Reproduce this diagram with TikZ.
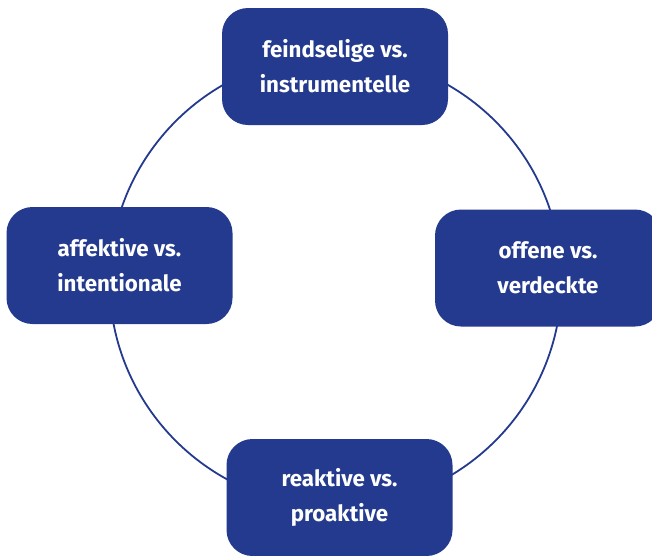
\documentclass[tikz,border=0pt]{standalone}
\usepackage{fontspec}
\setmainfont{Fira Sans}
\definecolor{boxblue}{RGB}{35,58,142}
\begin{document}
\begin{tikzpicture}[x=1pt,y=-1pt,
  boxnode/.style={fill=boxblue,draw=none,rounded corners=26pt,minimum width=226pt,minimum height=117pt,
    text=white,align=center,font=\fontsize{22.3}{35}\selectfont\bfseries,inner sep=0pt},
  ring/.style={draw=boxblue,line width=1.8pt}]
\useasboundingbox (0,0) rectangle (652,555);
\begin{scope}
\clip (0,0) rectangle (652,555);
\node[ring,circle,minimum size=452pt,inner sep=0pt] (c) at (335.5,281) {};
\node[boxnode] (top) at (335,66.5) {feindselige vs.\\instrumentelle};
\node[boxnode] (left) at (119.5,265.5) {affektive vs.\\intentionale};
\node[boxnode] (right) at (548,268) {offene vs.\\verdeckte};
\node[boxnode] (bottom) at (339.5,497.5) {reaktive vs.\\proaktive};
\end{scope}
\end{tikzpicture}
\end{document}
